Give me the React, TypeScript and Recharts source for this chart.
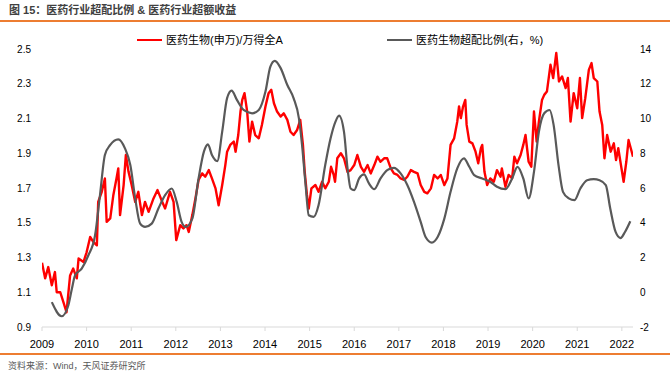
import React from 'react';
import { LineChart, Line, XAxis, YAxis } from 'recharts';

// x axis: years, ticks at the start of each year
const yearTicks = [2009, 2010, 2011, 2012, 2013, 2014, 2015, 2016, 2017, 2018, 2019, 2020, 2021, 2022];
const leftTicks = [0.9, 1.1, 1.3, 1.5, 1.7, 1.9, 2.1, 2.3, 2.5];
const rightTicks = [-2, 0, 2, 4, 6, 8, 10, 12, 14];

// 医药生物(申万)/万得全A (left axis)
const relDates = [
  2009.0, 2009.07, 2009.14, 2009.22, 2009.29, 2009.33, 2009.41, 2009.48, 2009.55, 2009.63,
  2009.7, 2009.78, 2009.82, 2009.93, 2010.0, 2010.08, 2010.15, 2010.23, 2010.26, 2010.34,
  2010.41, 2010.45, 2010.53, 2010.6, 2010.67, 2010.71, 2010.75, 2010.83, 2010.88, 2010.94,
  2011.01, 2011.09, 2011.16, 2011.24, 2011.31, 2011.39, 2011.5, 2011.59, 2011.68, 2011.76,
  2011.87, 2011.95, 2012.01, 2012.1, 2012.17, 2012.24, 2012.29, 2012.37, 2012.44, 2012.51,
  2012.59, 2012.66, 2012.74, 2012.81, 2012.89, 2012.96, 2013.04, 2013.11, 2013.15, 2013.22,
  2013.3, 2013.34, 2013.4, 2013.45, 2013.49, 2013.54, 2013.6, 2013.65, 2013.71, 2013.78,
  2013.86, 2013.93, 2014.01, 2014.08, 2014.14, 2014.2, 2014.27, 2014.35, 2014.42, 2014.5,
  2014.57, 2014.64, 2014.72, 2014.79, 2014.85, 2014.89, 2014.94, 2014.98, 2015.04, 2015.13,
  2015.2, 2015.28, 2015.35, 2015.43, 2015.48, 2015.54, 2015.57, 2015.62, 2015.7, 2015.77,
  2015.85, 2015.92, 2016.0, 2016.07, 2016.15, 2016.22, 2016.3, 2016.37, 2016.45, 2016.52,
  2016.59, 2016.67, 2016.74, 2016.82, 2016.89, 2016.97, 2017.04, 2017.12, 2017.19, 2017.27,
  2017.34, 2017.42, 2017.49, 2017.57, 2017.64, 2017.72, 2017.79, 2017.87, 2017.94, 2018.02,
  2018.09, 2018.16, 2018.24, 2018.31, 2018.35, 2018.39, 2018.44, 2018.49, 2018.52, 2018.58,
  2018.65, 2018.72, 2018.78, 2018.84, 2018.87, 2018.92, 2018.98, 2019.05, 2019.13, 2019.2,
  2019.28, 2019.31, 2019.39, 2019.46, 2019.54, 2019.59, 2019.65, 2019.73, 2019.79, 2019.84,
  2019.91, 2019.97, 2020.03, 2020.09, 2020.14, 2020.21, 2020.26, 2020.32, 2020.4, 2020.46,
  2020.53, 2020.59, 2020.66, 2020.74, 2020.79, 2020.85, 2020.92, 2021.0, 2021.06, 2021.11,
  2021.18, 2021.26, 2021.32, 2021.37, 2021.45, 2021.5, 2021.56, 2021.61, 2021.67, 2021.75,
  2021.82, 2021.87, 2021.92, 2021.98, 2022.04, 2022.1, 2022.15, 2022.2, 2022.25,
];
const relValues = [
  1.27, 1.18, 1.245, 1.14, 1.216, 1.1, 1.1, 1.043, 0.985, 1.197,
  1.236, 1.18, 1.294, 1.274, 1.33, 1.418, 1.39, 1.37, 1.62, 1.678,
  1.755, 1.505, 1.525, 1.66, 1.755, 1.813, 1.544, 1.717, 1.89, 1.793,
  1.717, 1.62, 1.678, 1.544, 1.62, 1.563, 1.64, 1.688, 1.63, 1.582,
  1.678, 1.62, 1.4, 1.486, 1.467, 1.486, 1.447, 1.544, 1.64, 1.746,
  1.784, 1.765, 1.803, 1.755, 1.698, 1.601, 1.717, 1.832, 1.909, 1.948,
  1.967, 1.909, 2.005, 2.14, 2.207, 2.246, 2.14, 1.967, 2.082, 2.005,
  1.986, 2.063, 2.169, 2.246, 2.265, 2.188, 2.14, 2.111, 2.13, 2.092,
  2.024, 2.005, 2.034, 2.092, 1.948, 1.793, 1.66, 1.582, 1.698, 1.717,
  1.678, 1.736, 1.698, 1.736, 1.822, 1.775, 1.736, 1.871, 1.9, 1.871,
  1.793, 1.803, 1.832, 1.89, 1.822, 1.793, 1.832, 1.784, 1.832, 1.88,
  1.851, 1.871, 1.871, 1.813, 1.784, 1.775, 1.755, 1.746, 1.765, 1.803,
  1.793, 1.784, 1.717, 1.678, 1.669, 1.698, 1.775, 1.755, 1.775, 1.717,
  1.755, 1.948, 1.986, 2.082, 2.169, 2.102, 2.169, 2.207, 2.063, 1.967,
  1.957, 1.909, 1.842, 1.929, 1.948, 1.793, 1.717, 1.755, 1.736, 1.803,
  1.765, 1.813, 1.707, 1.775, 1.755, 1.88, 1.842, 1.89, 1.948, 2.005,
  1.851, 1.822, 2.14, 1.967, 2.082, 2.207, 2.236, 2.255, 2.41, 2.333,
  2.477, 2.313, 2.342, 2.275, 2.333, 2.082, 2.246, 2.159, 2.333, 2.102,
  2.217, 2.38, 2.419, 2.333, 2.313, 2.14, 2.063, 1.871, 2.005, 1.909,
  1.957, 1.861, 1.929, 1.832, 1.736, 1.851, 1.976, 1.929, 1.88,
];

// 医药生物超配比例 (right axis, %)
const owDates = [
  2009.22, 2009.44, 2009.59, 2009.67, 2009.74, 2009.89, 2010.04, 2010.19, 2010.3, 2010.41,
  2010.53, 2010.71, 2010.86, 2010.98, 2011.09, 2011.2, 2011.31, 2011.46, 2011.61, 2011.76,
  2011.91, 2012.02, 2012.13, 2012.22, 2012.37, 2012.51, 2012.63, 2012.72, 2012.81, 2012.93,
  2013.04, 2013.15, 2013.25, 2013.37, 2013.52, 2013.71, 2013.86, 2014.01, 2014.12, 2014.22,
  2014.35, 2014.5, 2014.64, 2014.76, 2014.83, 2014.91, 2014.98, 2015.09, 2015.2, 2015.35,
  2015.47, 2015.58, 2015.66, 2015.77, 2015.85, 2015.92, 2016.0, 2016.11, 2016.22, 2016.33,
  2016.45, 2016.59, 2016.74, 2016.89, 2017.04, 2017.19, 2017.34, 2017.49, 2017.6, 2017.74,
  2017.87, 2018.02, 2018.16, 2018.31, 2018.46, 2018.58, 2018.69, 2018.87, 2019.05, 2019.2,
  2019.39, 2019.54, 2019.66, 2019.79, 2019.91, 2020.03, 2020.14, 2020.26, 2020.38, 2020.47,
  2020.58, 2020.68, 2020.81, 2020.94, 2021.07, 2021.22, 2021.37, 2021.5, 2021.64, 2021.74,
  2021.86, 2021.97, 2022.07, 2022.19,
];
const owValues = [
  -0.57, -1.38, -0.76, 0.2, 0.97, 1.36, 2.13, 3.28, 5.59, 7.9,
  8.48, 8.8, 8.28, 7.32, 5.4, 3.95, 3.76, 3.95, 4.82, 5.59,
  5.97, 5.2, 4.05, 3.76, 4.24, 6.55, 8.09, 8.51, 7.9, 7.55,
  9.24, 11.17, 11.6, 11.07, 10.49, 10.3, 10.49, 11.55, 12.99, 13.32,
  12.9, 11.93, 11.17, 10.01, 8.48, 6.17, 4.43, 4.34, 5.01, 7.32,
  8.86, 9.82, 10.16, 9.24, 7.13, 5.97, 5.88, 6.55, 6.78, 6.26,
  5.93, 6.55, 7.03, 7.16, 6.84, 6.17, 5.2, 4.05, 3.18, 2.86,
  3.18, 4.24, 5.78, 7.13, 7.71, 7.22, 6.74, 6.55, 6.36, 6.07,
  5.93, 6.55, 7.22, 6.55, 5.4, 6.93, 9.24, 10.3, 10.49, 9.63,
  7.32, 5.78, 5.4, 5.3, 5.97, 6.45, 6.51, 6.45, 6.17, 4.82,
  3.47, 3.12, 3.47, 4.09,
];

const relData = relDates.map((t, i) => ({ t, v: relValues[i] }));
const owData = owDates.map((t, i) => ({ t, v: owValues[i] }));

const FONT = "'Liberation Sans', Arial, 'Noto Sans CJK SC', sans-serif";
const ORANGE = '#ED7D31';

const LegendItem = ({ color, label, x }: { color: string; label: string; x: number }) => (
  <div style={{ position: 'absolute', left: x, top: 33, height: 14, display: 'flex', alignItems: 'center' }}>
    <div style={{ width: 25, height: 2.5, background: color, marginRight: 4 }} />
    <span style={{ fontSize: 11, lineHeight: '14px', color: '#000', whiteSpace: 'nowrap' }}>{label}</span>
  </div>
);

export default function App() {
  return (
    <div style={{ position: 'absolute', left: 0, top: 0, width: 670, height: 377, background: '#fff', fontFamily: FONT, overflow: 'hidden' }}>
      <div style={{ position: 'absolute', left: 9, top: 4, fontSize: 11, lineHeight: '13px', fontWeight: 'bold', color: '#404040', whiteSpace: 'nowrap' }}>
        图 15：医药行业超配比例 &amp; 医药行业超额收益
      </div>
      <div style={{ position: 'absolute', left: 0, top: 20, width: 670, height: 1.5, background: ORANGE }} />

      <LineChart width={670} height={377} data={relData} margin={{ top: 49, right: 0, bottom: 30, left: 0 }}>
        <XAxis
          dataKey="t"
          type="number"
          domain={[2009, 2022.25]}
          ticks={yearTicks}
          interval={0}
          allowDataOverflow
          height={20}
          tickFormatter={(v: number) => String(v)}
          axisLine={{ stroke: '#d9d9d9', strokeWidth: 1.2 }}
          tickLine={{ stroke: '#d9d9d9' }}
          tickSize={4}
          tickMargin={9}
          tick={{ fontSize: 11, fill: '#000' }}
        />
        <YAxis
          yAxisId="left"
          orientation="left"
          width={42}
          domain={[0.9, 2.5]}
          ticks={leftTicks}
          interval={0}
          axisLine={false}
          tickLine={false}
          tickMargin={5}
          tickFormatter={(v: number) => v.toFixed(1)}
          tick={{ fontSize: 10, fill: '#000' }}
        />
        <YAxis
          yAxisId="right"
          orientation="right"
          width={37}
          domain={[-2, 14]}
          ticks={rightTicks}
          interval={0}
          axisLine={false}
          tickLine={false}
          tickMargin={1}
          tick={{ fontSize: 10, fill: '#000', textAnchor: 'start' }}
        />
        <Line
          yAxisId="left"
          data={relData}
          dataKey="v"
          type="linear"
          stroke="#FF0000"
          strokeWidth={2.4}
          strokeLinejoin="round"
          dot={false}
          isAnimationActive={false}
        />
        <Line
          yAxisId="right"
          data={owData}
          dataKey="v"
          type="monotone"
          stroke="#595959"
          strokeWidth={2.2}
          dot={false}
          isAnimationActive={false}
        />
      </LineChart>

      <LegendItem color="#FF0000" label="医药生物(申万)/万得全A" x={137} />
      <LegendItem color="#595959" label="医药生物超配比例(右，%)" x={387} />

      <div style={{ position: 'absolute', left: 0, top: 353, width: 670, height: 1.5, background: ORANGE }} />
      <div style={{ position: 'absolute', left: 8, top: 360, fontSize: 9, lineHeight: '12px', color: '#595959', whiteSpace: 'nowrap' }}>
        资料来源：Wind，天风证券研究所
      </div>
    </div>
  );
}
